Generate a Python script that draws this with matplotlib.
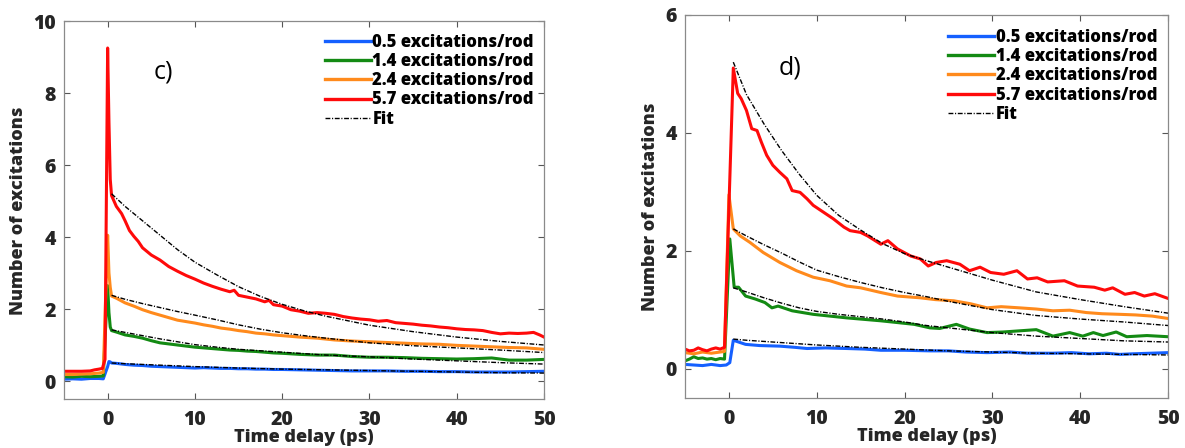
import numpy as np
import matplotlib
matplotlib.use("Agg")
import matplotlib.pyplot as plt
from matplotlib.lines import Line2D

plt.rcParams["font.family"] = ["Open Sans", "DejaVu Sans"]

LABELS = ["0.5 excitations/rod", "1.4 excitations/rod",
          "2.4 excitations/rod", "5.7 excitations/rod"]
COLORS = ["#1560ff", "#138a13", "#ff8a1c", "#ff0a0a"]

# ---- panel c) ----
c_red_t = [-5, -4, -3, -2, -1.5, -1, -0.6, -0.3, 0, 0.15, 0.3, 0.45, 1.0, 1.6, 2.0, 2.5,
           3.0, 3.5, 4.0, 5, 6, 7, 8, 9, 10, 11, 12, 13, 14, 14.5, 15, 16, 17, 18, 18.5,
           19, 20, 21, 22, 23, 24, 25, 26, 27, 28, 29, 30, 31, 32, 33, 34, 35, 36, 37,
           38, 39, 40, 41, 42, 43, 44, 45, 46, 47, 48, 48.8, 49.5, 50]
c_red_y = [0.27, 0.27, 0.27, 0.28, 0.31, 0.33, 0.35, 0.6, 9.25, 7.2, 5.6, 5.15, 4.85,
           4.65, 4.45, 4.18, 4.02, 3.88, 3.7, 3.5, 3.36, 3.18, 3.05, 2.93, 2.83, 2.72,
           2.63, 2.55, 2.48, 2.52, 2.38, 2.33, 2.28, 2.2, 2.24, 2.12, 2.08, 1.98, 1.94,
           1.88, 1.9, 1.88, 1.85, 1.79, 1.75, 1.72, 1.70, 1.66, 1.68, 1.62, 1.6, 1.58,
           1.55, 1.53, 1.5, 1.48, 1.45, 1.43, 1.42, 1.4, 1.35, 1.31, 1.33, 1.32, 1.33,
           1.35, 1.28, 1.22]

c_t = [-5, -4, -3, -2, -1, -0.5, 0, 0.15, 0.3, 0.45, 1, 2, 3, 4, 5, 6, 7, 8, 9, 10,
       11, 12, 13, 14, 15, 16, 17, 18, 19, 20, 22, 24, 26, 28, 30, 32, 34, 36, 38, 40,
       42, 44, 46, 48, 50]
c_orange_y = [0.18, 0.18, 0.19, 0.2, 0.22, 0.24, 4.05, 3.0, 2.6, 2.36, 2.3, 2.17, 2.08,
              1.98, 1.9, 1.83, 1.76, 1.69, 1.65, 1.61, 1.56, 1.52, 1.47, 1.44, 1.4, 1.37,
              1.33, 1.31, 1.28, 1.26, 1.22, 1.19, 1.14, 1.11, 1.09, 1.07, 1.05, 1.03,
              1.02, 0.99, 0.97, 0.95, 0.93, 0.92, 0.88]
c_green_y = [0.12, 0.11, 0.13, 0.12, 0.13, 0.14, 2.65, 1.9, 1.5, 1.4, 1.36, 1.28, 1.24,
             1.19, 1.12, 1.06, 1.03, 1.0, 0.97, 0.94, 0.92, 0.9, 0.88, 0.86, 0.85, 0.83,
             0.82, 0.8, 0.78, 0.77, 0.74, 0.72, 0.72, 0.68, 0.66, 0.66, 0.65, 0.63, 0.62,
             0.61, 0.62, 0.64, 0.58, 0.58, 0.6]
c_blue_y = [0.05, 0.06, 0.05, 0.07, 0.07, 0.06, 0.4, 0.54, 0.53, 0.5, 0.49, 0.46, 0.44,
            0.43, 0.41, 0.40, 0.39, 0.38, 0.37, 0.36, 0.37, 0.36, 0.35, 0.35, 0.34, 0.34,
            0.33, 0.33, 0.32, 0.32, 0.31, 0.3, 0.29, 0.28, 0.28, 0.28, 0.27, 0.27, 0.26,
            0.26, 0.25, 0.25, 0.25, 0.26, 0.27]

fit_t_c = [0.45, 2, 4, 6, 8, 10, 12.5, 15, 17.5, 20, 22.5, 25, 30, 35, 40, 45, 50]
fit_c_red = [5.2, 4.85, 4.45, 4.05, 3.65, 3.3, 2.95, 2.62, 2.35, 2.13, 1.95, 1.8, 1.55,
             1.37, 1.22, 1.1, 1.0]
fit_c_orange = [2.38, 2.27, 2.15, 2.04, 1.93, 1.83, 1.7, 1.56, 1.44, 1.34, 1.26, 1.19,
                1.06, 0.98, 0.92, 0.86, 0.79]
fit_c_green = [1.42, 1.35, 1.26, 1.17, 1.09, 1.01, 0.94, 0.88, 0.84, 0.8, 0.76, 0.72,
               0.67, 0.61, 0.56, 0.51, 0.47]
fit_c_blue = [0.5, 0.48, 0.46, 0.44, 0.42, 0.4, 0.38, 0.36, 0.345, 0.33, 0.32, 0.31,
              0.29, 0.27, 0.25, 0.23, 0.22]

# ---- panel d) ----
d_red_t = [-5, -4.5, -4, -3.5, -3, -2.5, -2, -1.5, -1, -0.5, 0.5, 1.0, 1.4, 2.0, 2.6, 3.2,
           3.7, 4.3, 5.0, 5.8, 6.6, 7.2, 8.1, 8.9, 9.6, 10.8, 11.9, 13.1, 13.8, 15.0,
           15.8, 17.3, 18.1, 19.2, 20.7, 21.8, 22.7, 23.6, 24.8, 26.3, 27.4, 28.6, 29.8,
           31.3, 32.8, 34.0, 35.1, 36.3, 38.2, 39.7, 41.6, 42.8, 43.7, 45.1, 46.2, 47.3,
           48.5, 50]
d_red_y = [0.33, 0.3, 0.31, 0.35, 0.32, 0.3, 0.33, 0.35, 0.33, 0.36, 5.1, 4.67, 4.58,
           4.38, 4.07, 4.04, 3.84, 3.62, 3.45, 3.33, 3.22, 3.02, 2.99, 2.88, 2.77, 2.65,
           2.54, 2.4, 2.34, 2.31, 2.25, 2.11, 2.17, 2.03, 1.91, 1.86, 1.74, 1.8, 1.83,
           1.77, 1.66, 1.72, 1.63, 1.6, 1.66, 1.52, 1.54, 1.47, 1.49, 1.4, 1.38, 1.33,
           1.37, 1.26, 1.29, 1.23, 1.27, 1.19]

d_orange_t = [-5, -4, -3, -2, -1, -0.5, 0, 0.5, 1.3, 2.4, 3.9, 5.8, 7.7, 9.6, 11.5, 13.4,
              15, 17.3, 19.2, 21.8, 23.5, 25.6, 27.5, 29.4, 31, 33.1, 35, 36.9, 38.8,
              40.7, 42.5, 44.5, 46.3, 48.2, 50]
d_orange_y = [0.27, 0.25, 0.28, 0.26, 0.28, 0.29, 2.95, 2.37, 2.25, 2.14, 1.97, 1.8, 1.66,
              1.55, 1.49, 1.4, 1.37, 1.29, 1.23, 1.2, 1.17, 1.15, 1.1, 1.03, 1.05, 1.03,
              1.01, 0.98, 0.99, 0.95, 0.93, 0.92, 0.91, 0.89, 0.85]

d_green_t = [-5, -4.5, -4, -3.5, -3, -2.5, -2, -1.5, -1, -0.5, 0.1, 0.6, 1.1, 1.9, 3.0,
             4.1, 4.9, 5.6, 7.2, 9.6, 11.5, 13.4, 17.3, 21.1, 22.9, 24, 25.9, 27.4, 29.4,
             31.2, 33.1, 35, 36.9, 38.8, 40.3, 41.5, 42.6, 44.1, 45.3, 47.6, 50]
d_green_y = [0.13, 0.16, 0.2, 0.17, 0.18, 0.16, 0.17, 0.15, 0.17, 0.16, 2.2, 1.38, 1.38,
             1.23, 1.18, 1.12, 1.03, 1.06, 0.98, 0.92, 0.89, 0.86, 0.81, 0.75, 0.69, 0.68,
             0.75, 0.67, 0.61, 0.62, 0.64, 0.66, 0.55, 0.61, 0.55, 0.61, 0.56, 0.62, 0.54,
             0.56, 0.54]

d_blue_t = [-5, -4, -3, -2, -1, -0.3, 0.1, 0.5, 1.9, 3.5, 5.8, 7.5, 8.9, 11, 13.4, 15.5,
            17.3, 20, 22.9, 25, 27, 29.4, 32, 34, 36.9, 39, 41, 43, 44.5, 46, 48, 50]
d_blue_y = [0.07, 0.06, 0.05, 0.07, 0.05, 0.06, 0.1, 0.48, 0.41, 0.39, 0.38, 0.36, 0.34,
            0.35, 0.34, 0.33, 0.31, 0.31, 0.3, 0.3, 0.28, 0.27, 0.28, 0.26, 0.26, 0.27,
            0.25, 0.26, 0.24, 0.25, 0.26, 0.27]

fit_t_d = [0.5, 2, 4, 6, 8, 10, 12.5, 15, 17.5, 20, 22.5, 25, 30, 35, 40, 45, 50]
fit_d_red = [5.2, 4.65, 4.15, 3.7, 3.3, 2.94, 2.6, 2.35, 2.12, 1.95, 1.83, 1.72, 1.5,
             1.3, 1.17, 1.05, 0.94]
fit_d_orange = [2.37, 2.25, 2.1, 1.96, 1.81, 1.67, 1.56, 1.46, 1.37, 1.29, 1.22, 1.14,
                1.0, 0.9, 0.84, 0.79, 0.73]
fit_d_green = [1.37, 1.3, 1.2, 1.11, 1.03, 0.97, 0.92, 0.88, 0.84, 0.79, 0.73, 0.69,
               0.61, 0.55, 0.51, 0.47, 0.45]
fit_d_blue = [0.5, 0.48, 0.46, 0.44, 0.42, 0.4, 0.38, 0.36, 0.345, 0.33, 0.315, 0.3,
              0.28, 0.26, 0.25, 0.24, 0.23]

W, H = 1185, 448
panels = [
    dict(data=[(c_t, c_blue_y), (c_t, c_green_y), (c_t, c_orange_y), (c_red_t, c_red_y)],
         fit_t=fit_t_c, fits=[fit_c_blue, fit_c_green, fit_c_orange, fit_c_red],
         ylim=(-0.5, 10), yticks=[0, 2, 4, 6, 8, 10], tag="c)",
         rect=[64 / W, 49 / H, 480 / W, 378 / H],
         tagpos=(0.206, 0.865), leg=(325 / W, 1 - 34 / H), ylab=(27 / W, 1 - 211 / H)),
    dict(data=[(d_blue_t, d_blue_y), (d_green_t, d_green_y), (d_orange_t, d_orange_y),
               (d_red_t, d_red_y)],
         fit_t=fit_t_d, fits=[fit_d_blue, fit_d_green, fit_d_orange, fit_d_red],
         ylim=(-0.5, 6), yticks=[0, 2, 4, 6], tag="d)",
         rect=[685 / W, 50 / H, 483 / W, 383 / H],
         tagpos=(0.217, 0.861), leg=(948 / W, 1 - 29 / H), ylab=(659 / W, 1 - 207 / H)),
]

TXT = "#262626"
WEIGHT = 800
FIT_DASH = (0, (3.5, 1.2, 0.8, 1.2))

fig = plt.figure(figsize=(W / 100, H / 100), dpi=100)

for p in panels:
    ax = fig.add_axes(p["rect"])
    for (t, y), col in zip(p["data"], COLORS):
        ax.plot(t, y, color=col, lw=2.2, solid_joinstyle="round")
    for f in p["fits"]:
        ax.plot(p["fit_t"], f, color="black", lw=1.0, linestyle=FIT_DASH)

    ax.set_xlim(-5, 50)
    ax.set_ylim(*p["ylim"])
    ax.set_xticks([0, 10, 20, 30, 40, 50])
    ax.set_yticks(p["yticks"])
    ax.tick_params(direction="in", top=True, right=True, length=4, width=0.8,
                   color="#555555", labelsize=14, labelcolor=TXT)
    ax.tick_params(axis="x", pad=8)
    ax.tick_params(axis="y", pad=6)
    for lab in ax.get_xticklabels() + ax.get_yticklabels():
        lab.set_fontweight(WEIGHT)
    for sp in ax.spines.values():
        sp.set_color("#8a8a8a")
        sp.set_linewidth(0.9)

    ax.set_xlabel("Time delay (ps)", fontsize=13, fontweight=WEIGHT, color=TXT,
                  labelpad=-1)
    ax.set_ylabel("Number of excitations", fontsize=13, fontweight=WEIGHT, color=TXT)
    ax.yaxis.set_label_coords(p["ylab"][0], p["ylab"][1], transform=fig.transFigure)

    ax.text(p["tagpos"][0], p["tagpos"][1], p["tag"], transform=ax.transAxes,
            fontsize=18, color="black", ha="center", va="center")

    handles = [Line2D([], [], color=c, lw=2.4) for c in COLORS]
    handles.append(Line2D([], [], color="black", lw=1.0, linestyle=FIT_DASH))
    ax.legend(handles, LABELS + ["Fit"], loc="upper left",
              bbox_to_anchor=p["leg"], bbox_transform=fig.transFigure,
              frameon=False, borderpad=0, borderaxespad=0, handlelength=2.75,
              handletextpad=0.1, labelspacing=0.13,
              prop=dict(size=12, weight=WEIGHT))

fig.savefig("out.png", dpi=100)
